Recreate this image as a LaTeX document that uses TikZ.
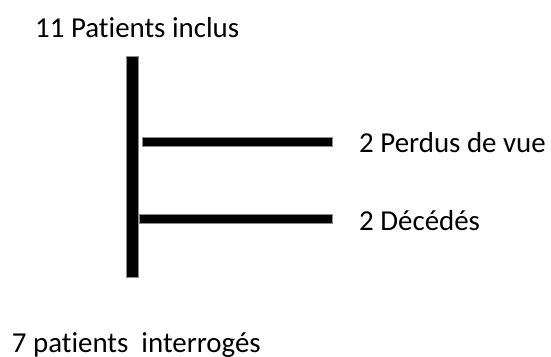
\documentclass[tikz,border=0pt]{standalone}
\usepackage{fontspec}
\setmainfont[Ligatures={NoCommon}]{Carlito}
\begin{document}
\begin{tikzpicture}[x=1pt,y=-1pt,
  bar/.style={fill=black,draw=black!45,line width=1pt,inner sep=0pt,outer sep=0pt},
  lbl/.style={anchor=base west,inner sep=0pt,font=\fontsize{28.9}{34}\selectfont}]
\useasboundingbox (0,0) rectangle (551,356);
\node[bar,minimum width=12.7pt,minimum height=221pt] (v) at (132.35,166.5) {};
\node[bar,minimum width=190.4pt,minimum height=9.4pt] (h1) at (237.5,142) {};
\node[bar,minimum width=193.4pt,minimum height=9.3pt] (h2) at (236,218.65) {};
\node[lbl] (t1) at (35,37) {11 Patients inclus};
\node[lbl] (t2) at (359,152.7) {2 Perdus de vue};
\node[lbl] (t3) at (359,230) {2 Décédés};
\node[lbl] (t4) at (11.7,352.7) {7 patients\ \ interrogés};
\end{tikzpicture}
\end{document}
